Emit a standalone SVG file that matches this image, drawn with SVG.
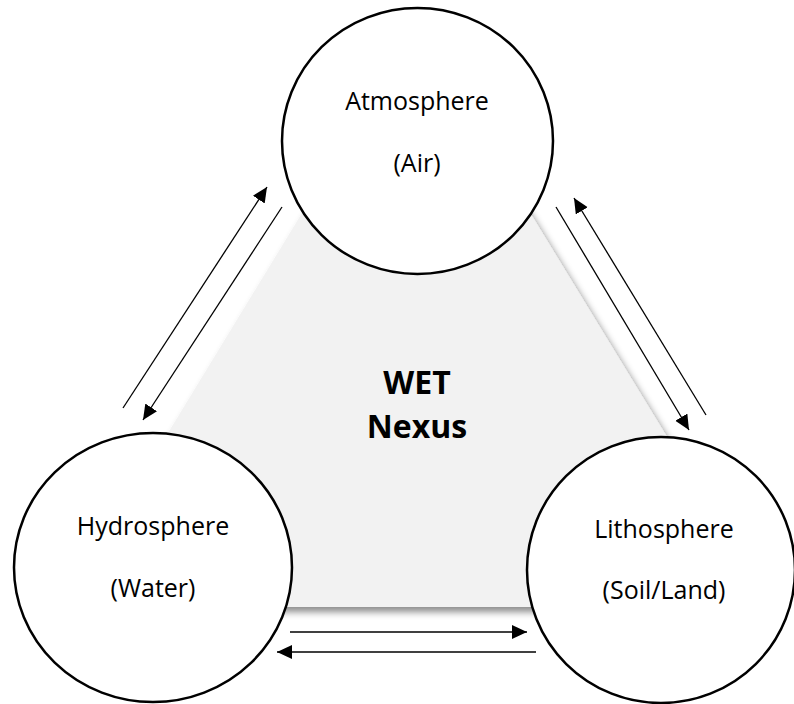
<svg xmlns="http://www.w3.org/2000/svg" width="794" height="704" viewBox="0 0 794 704">
<style>
.node{fill:#ffffff;stroke:#000000;stroke-width:2.5}
.lbl{font-family:"Open Sans","Liberation Sans",sans-serif;font-size:25px;fill:#000000;text-anchor:middle}
.ctr{font-family:"Open Sans","Liberation Sans",sans-serif;font-size:32px;font-weight:bold;fill:#000000;text-anchor:middle}
.arr{stroke:#000000;stroke-width:1.3;fill:none;marker-end:url(#ah)}
</style>
<defs>
<marker id="ah" markerUnits="userSpaceOnUse" markerWidth="16" markerHeight="15" refX="15" refY="7" orient="auto">
<path d="M0,0 L15,7 L0,14 z" fill="#000000"/>
</marker>
<filter id="sh" x="-10%" y="-10%" width="125%" height="125%">
<feDropShadow dx="3" dy="5" stdDeviation="3.5" flood-color="#000000" flood-opacity="0.45"/>
</filter>
</defs>
<rect width="794" height="704" fill="#ffffff"/>
<g id="nexus">
<polygon points="416,26 62,607 771,607" fill="#f2f2f2" filter="url(#sh)"/>
<text class="ctr" x="417" y="394">WET</text>
<text class="ctr" x="417" y="438">Nexus</text>
</g>
<g id="connectors">
<line class="arr" x1="123" y1="408" x2="267" y2="187"/>
<line class="arr" x1="282" y1="207" x2="143" y2="420"/>
<line class="arr" x1="556" y1="207" x2="689" y2="430"/>
<line class="arr" x1="706" y1="415" x2="574" y2="198"/>
<line class="arr" x1="290" y1="632" x2="527" y2="632"/>
<line class="arr" x1="536" y1="652" x2="277" y2="652"/>
</g>
<g id="atmosphere">
<ellipse class="node" cx="417.5" cy="141" rx="135.5" ry="133"/>
<text class="lbl" x="417" y="110">Atmosphere</text>
<text class="lbl" x="417" y="172">(Air)</text>
</g>
<g id="hydrosphere">
<ellipse class="node" cx="153" cy="567.5" rx="139" ry="134.5"/>
<text class="lbl" x="153" y="535">Hydrosphere</text>
<text class="lbl" x="153" y="597">(Water)</text>
</g>
<g id="lithosphere">
<ellipse class="node" cx="661" cy="570" rx="134" ry="133"/>
<text class="lbl" x="664" y="538">Lithosphere</text>
<text class="lbl" x="664" y="599">(Soil/Land)</text>
</g>
</svg>
